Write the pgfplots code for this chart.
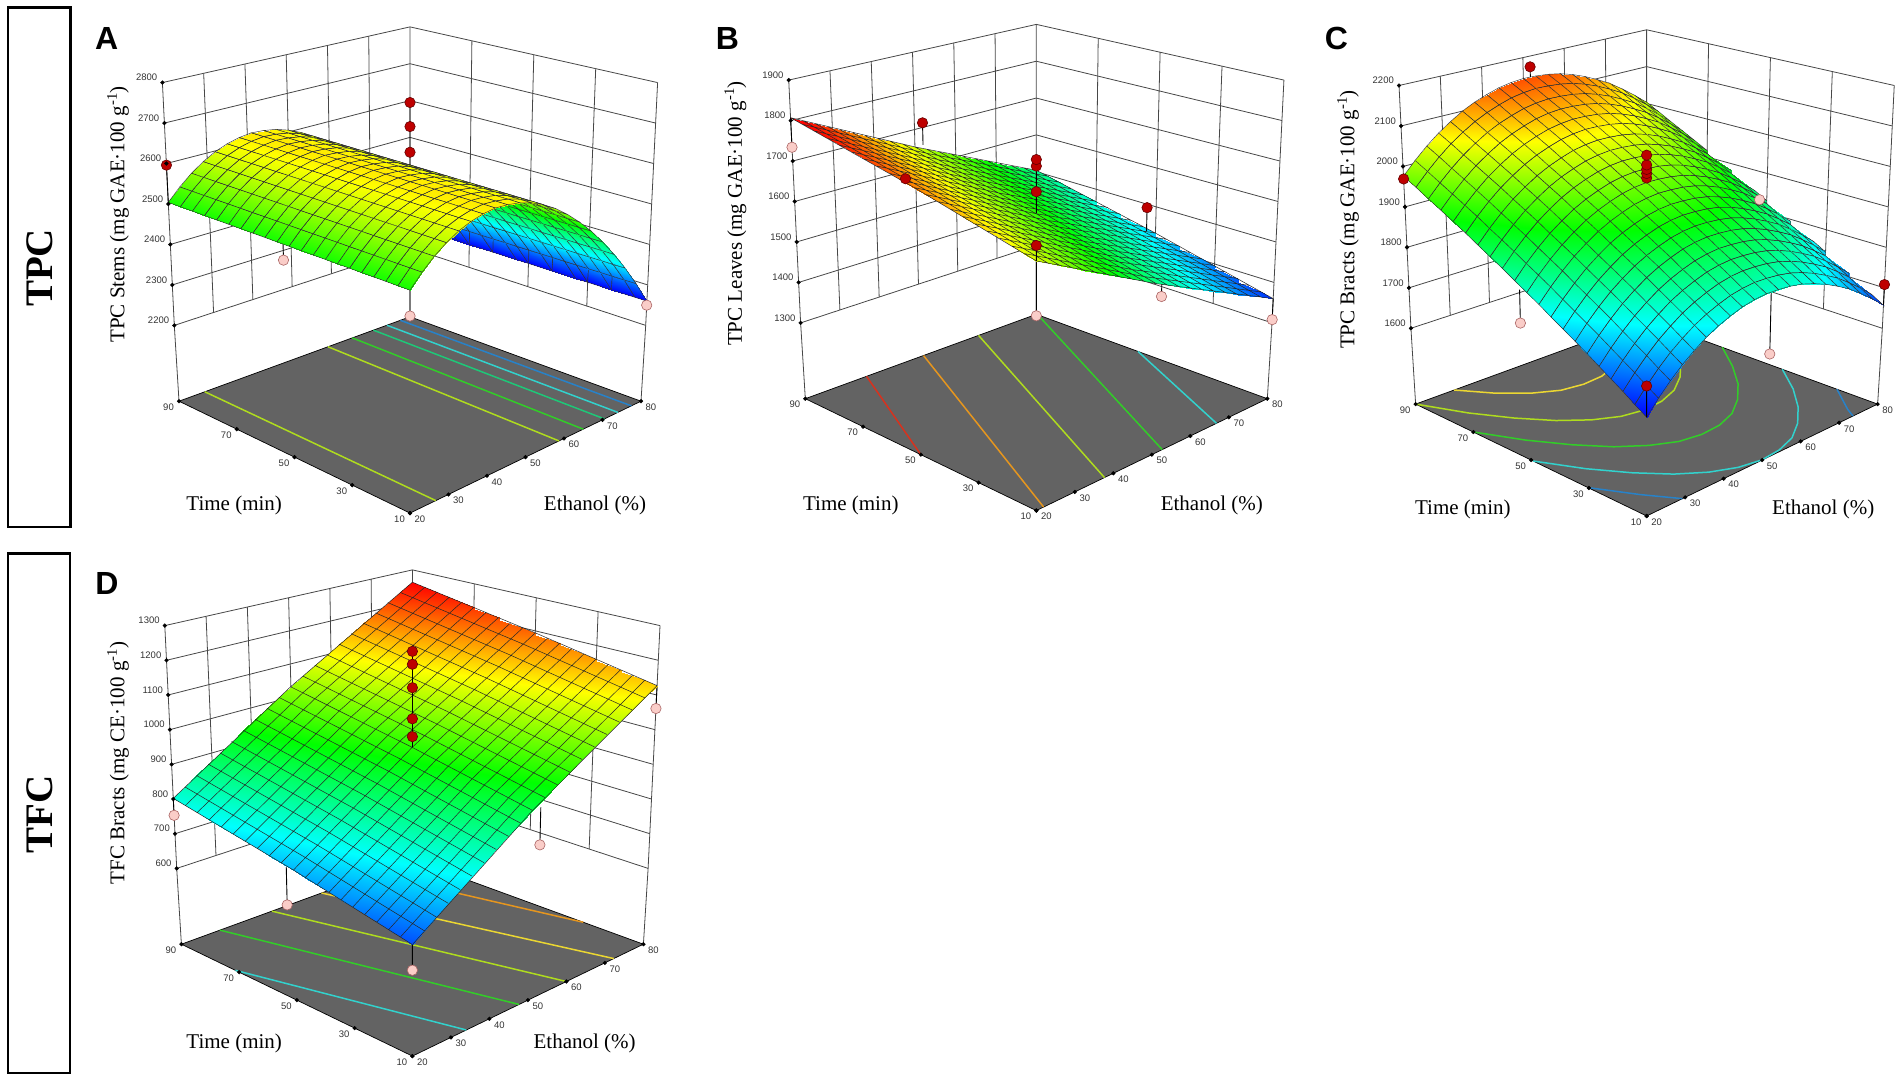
\documentclass[border=0pt]{standalone}
\usepackage{fontspec}
\usepackage{pgfplots}
\usepackage{pgfplotstable}
\pgfplotsset{compat=1.18}
\setmainfont{Liberation Serif}
\newfontfamily\labf{Liberation Sans}
\definecolor{floorgray}{RGB}{99,99,99}
\definecolor{pinkc}{RGB}{250,205,200}
\definecolor{pinkd}{RGB}{170,100,100}
\definecolor{redc}{RGB}{190,0,0}
\definecolor{redd}{RGB}{100,0,0}
\definecolor{cblue}{RGB}{40,130,200}
\definecolor{ccyan}{RGB}{50,210,205}
\definecolor{cteal}{RGB}{30,200,120}
\definecolor{cgreen}{RGB}{50,205,40}
\definecolor{cyg}{RGB}{175,220,30}
\definecolor{cyel}{RGB}{235,215,50}
\definecolor{corg}{RGB}{230,150,30}
\definecolor{cred}{RGB}{215,50,30}
\newcommand\pE{((\thisrow{e}-20)/60)}
\newcommand\pT{((\thisrow{t}-10)/80)}
\newcommand\pZ{((\thisrow{z}-\Zmin)/\Zrng)}
\pgfkeys{
 /pgfplots/table/real/.style={x expr={xproj(\pE,\pT,\pZ)},y expr={yproj(\pE,\pT,\pZ)}},
 /pgfplots/table/lev/.style={x expr={xproj(\pE,\pT,\thisrow{k}/\NZ)},y expr={yproj(\pE,\pT,\thisrow{k}/\NZ)}},
 /pgfplots/table/vrt/.style={x expr={xproj(\pE,\pT,\thisrow{f})},y expr={yproj(\pE,\pT,\thisrow{f})}},
 /pgfplots/table/flr/.style={x expr={xproj(\pE,\pT,-9)},y expr={yproj(\pE,\pT,-9)}},
 /pgfplots/table/grd/.style={
   x expr={xproj(1-mod(\coordindex,21)/20,1-floor(\coordindex/21)/20,\pZ)},
   y expr={yproj(1-mod(\coordindex,21)/20,1-floor(\coordindex/21)/20,\pZ)},
   meta=z,row sep=\\},
}
\pgfplotsset{
 colormap={de}{rgb255=(0,0,255) rgb255=(0,255,255) rgb255=(0,255,0) rgb255=(255,255,0) rgb255=(255,0,0)},
 panel/.style={hide axis,scale only axis,width=1902pt,height=1080pt,xmin=0,xmax=1902,ymin=0,ymax=1080,
  clip=false,at={(0pt,0pt)},anchor=south west,unbounded coords=jump,colormap name=de},
 pinkp/.style={only marks,mark=*,mark size=5.2pt,mark options={fill=pinkc,draw=pinkd,line width=.6pt}},
 redp/.style={only marks,mark=*,mark size=5.2pt,mark options={fill=redc,draw=redd,line width=.6pt}},
 stem/.style={black,line width=.9pt},
 srf/.style={surf,mesh/rows=21,mesh/cols=21,shader=faceted interp,faceted color=black!80,line width=.45pt,point meta=explicit},
 srfi/.style={surf,mesh/rows=21,mesh/cols=21,shader=interp,point meta=explicit},
 msh/.style={black!85,line width=.5pt},
 tk/.style={only marks,mark=*,mark size=1.9pt,mark options={fill=black,draw=black},nodes near coords,point meta=explicit symbolic,
   nodes near coords style={font=\labf\fontsize{9.5}{10}\selectfont,text=black!80,inner sep=0pt,#1}},
}
\pgfplotstableread{
e t k
20 90 0
80 90 0
80 10 0
nan nan nan
20 90 1
80 90 1
80 10 1
nan nan nan
20 90 2
80 90 2
80 10 2
nan nan nan
20 90 3
80 90 3
80 10 3
nan nan nan
20 90 4
80 90 4
80 10 4
nan nan nan
20 90 5
80 90 5
80 10 5
nan nan nan
20 90 6
80 90 6
80 10 6
}\wallH
\pgfplotstableread{
e t
20 90
20 70
20 50
20 30
20 10
}\tickT
\pgfplotstableread{
e t
20 10
30 10
40 10
50 10
60 10
70 10
80 10
}\tickE
\newcommand\Back{%
 \addplot[black!72,line width=.8pt] table[lev] \wallH;
 \addplot[black!72,line width=.8pt] table[vrt,row sep=\\]{e t f\\
  20 90 0\\20 90 1\\nan nan nan\\30 90 0\\30 90 1\\nan nan nan\\40 90 0\\40 90 1\\nan nan nan\\50 90 0\\50 90 1\\nan nan nan\\60 90 0\\60 90 1\\nan nan nan\\70 90 0\\70 90 1\\nan nan nan\\80 90 0\\80 90 1\\nan nan nan\\
  80 70 0\\80 70 1\\nan nan nan\\80 50 0\\80 50 1\\nan nan nan\\80 30 0\\80 30 1\\nan nan nan\\80 10 0\\80 10 1\\nan nan nan\\
  20 90 0\\20 90 -9\\nan nan nan\\80 90 0\\80 90 -9\\nan nan nan\\80 10 0\\80 10 -9\\};
 \addplot[fill=floorgray,draw=black,line width=.7pt] table[flr,row sep=\\]{e t\\20 10\\20 90\\80 90\\80 10\\20 10\\};
}
\newcommand\Ticks{%
 \addplot[tk={anchor=east,xshift=-5pt,yshift=-6pt}] table[flr,meta=t] \tickT;
 \addplot[tk={anchor=west,xshift=4.5pt,yshift=-6pt}] table[flr,meta=e] \tickE;
}
\newcommand\Ztk[1]{\addplot[tk={anchor=east,xshift=-5pt,yshift=5pt}] table[lev,meta=lab,row sep=\\]{e t k lab\\#1};}
\newcommand\Ct[2]{\addplot[#1,line width=1.5pt] table[flr,row sep=\\]{e t\\#2};}
\begin{document}
\begin{tikzpicture}[declare function={
  xproj(\p,\q,\r)=\PCX+ifthenelse(\r<-0.5,231*(\p-\q),(235.7+11.9*\r)*(\p-\q));
  yproj(\p,\q,\r)=1080-(\PDY)-ifthenelse(\r<-0.5,513.1-111.9*(\p+\q)+27.5*\p*\q,(428-102.6*(\p+\q)+25.1*\p*\q)+\r*(-272+29.2*(\p+\q)-7.4*\p*\q));
 }]
\path[use as bounding box] (0pt,0pt) rectangle (1902pt,1080pt);
% ---------- Panel A
\def\PCX{410}\def\PDY{0}\def\Zmin{2200}\def\Zrng{600}\def\NZ{6}
\begin{axis}[panel,point meta min=2260,point meta max=2730]
\Back
\Ct{cyg}{26.7 10\\26.7 90\\}
\Ct{cyg}{58.7 10\\58.7 90\\}
\Ct{cgreen}{65 10\\65 90\\}
\Ct{cteal}{70.5 10\\70.5 90\\}
\Ct{ccyan}{74 10\\74 90\\}
\Ct{cblue}{77.5 10\\77.5 90\\}
\addplot[stem] table[real,row sep=\\]{e t z\\48 90 2605\\48 90 2275\\nan nan nan\\20 10 2504\\20 10 2447\\nan nan nan\\80 10 2260\\80 10 2250\\};
\addplot[srf] table[grd]{z\\
2260\\2315\\2365\\2410\\2451\\2488\\2520\\2548\\2572\\2591\\2605\\2615\\2620\\2622\\2618\\2610\\2598\\2581\\2560\\2534\\2504\\
2260\\2315\\2365\\2410\\2451\\2488\\2520\\2548\\2572\\2591\\2605\\2615\\2620\\2622\\2618\\2610\\2598\\2581\\2560\\2534\\2504\\
2260\\2315\\2365\\2410\\2451\\2488\\2520\\2548\\2572\\2591\\2605\\2615\\2620\\2622\\2618\\2610\\2598\\2581\\2560\\2534\\2504\\
2260\\2315\\2365\\2410\\2451\\2488\\2520\\2548\\2572\\2591\\2605\\2615\\2620\\2622\\2618\\2610\\2598\\2581\\2560\\2534\\2504\\
2260\\2315\\2365\\2410\\2451\\2488\\2520\\2548\\2572\\2591\\2605\\2615\\2620\\2622\\2618\\2610\\2598\\2581\\2560\\2534\\2504\\
2260\\2315\\2365\\2410\\2451\\2488\\2520\\2548\\2572\\2591\\2605\\2615\\2620\\2622\\2618\\2610\\2598\\2581\\2560\\2534\\2504\\
2260\\2315\\2365\\2410\\2451\\2488\\2520\\2548\\2572\\2591\\2605\\2615\\2620\\2622\\2618\\2610\\2598\\2581\\2560\\2534\\2504\\
2260\\2315\\2365\\2410\\2451\\2488\\2520\\2548\\2572\\2591\\2605\\2615\\2620\\2622\\2618\\2610\\2598\\2581\\2560\\2534\\2504\\
2260\\2315\\2365\\2410\\2451\\2488\\2520\\2548\\2572\\2591\\2605\\2615\\2620\\2622\\2618\\2610\\2598\\2581\\2560\\2534\\2504\\
2260\\2315\\2365\\2410\\2451\\2488\\2520\\2548\\2572\\2591\\2605\\2615\\2620\\2622\\2618\\2610\\2598\\2581\\2560\\2534\\2504\\
2260\\2315\\2365\\2410\\2451\\2488\\2520\\2548\\2572\\2591\\2605\\2615\\2620\\2622\\2618\\2610\\2598\\2581\\2560\\2534\\2504\\
2260\\2315\\2365\\2410\\2451\\2488\\2520\\2548\\2572\\2591\\2605\\2615\\2620\\2622\\2618\\2610\\2598\\2581\\2560\\2534\\2504\\
2260\\2315\\2365\\2410\\2451\\2488\\2520\\2548\\2572\\2591\\2605\\2615\\2620\\2622\\2618\\2610\\2598\\2581\\2560\\2534\\2504\\
2260\\2315\\2365\\2410\\2451\\2488\\2520\\2548\\2572\\2591\\2605\\2615\\2620\\2622\\2618\\2610\\2598\\2581\\2560\\2534\\2504\\
2260\\2315\\2365\\2410\\2451\\2488\\2520\\2548\\2572\\2591\\2605\\2615\\2620\\2622\\2618\\2610\\2598\\2581\\2560\\2534\\2504\\
2260\\2315\\2365\\2410\\2451\\2488\\2520\\2548\\2572\\2591\\2605\\2615\\2620\\2622\\2618\\2610\\2598\\2581\\2560\\2534\\2504\\
2260\\2315\\2365\\2410\\2451\\2488\\2520\\2548\\2572\\2591\\2605\\2615\\2620\\2622\\2618\\2610\\2598\\2581\\2560\\2534\\2504\\
2260\\2315\\2365\\2410\\2451\\2488\\2520\\2548\\2572\\2591\\2605\\2615\\2620\\2622\\2618\\2610\\2598\\2581\\2560\\2534\\2504\\
2260\\2315\\2365\\2410\\2451\\2488\\2520\\2548\\2572\\2591\\2605\\2615\\2620\\2622\\2618\\2610\\2598\\2581\\2560\\2534\\2504\\
2260\\2315\\2365\\2410\\2451\\2488\\2520\\2548\\2572\\2591\\2605\\2615\\2620\\2622\\2618\\2610\\2598\\2581\\2560\\2534\\2504\\
2260\\2315\\2365\\2410\\2451\\2488\\2520\\2548\\2572\\2591\\2605\\2615\\2620\\2622\\2618\\2610\\2598\\2581\\2560\\2534\\2504\\
};
\addplot[stem] table[real,row sep=\\]{e t z\\50 50 2605\\50 50 2762\\nan nan nan\\20 90 2504\\20 90 2596\\};
\addplot[pinkp] table[real,row sep=\\]{e t z\\48 90 2275\\20 10 2447\\80 10 2250\\};
\addplot[redp] table[real,row sep=\\]{e t z\\50 50 2640\\50 50 2703\\50 50 2762\\20 90 2596\\};
\Ticks
\Ztk{20 90 0 2200\\20 90 1 2300\\20 90 2 2400\\20 90 3 2500\\20 90 4 2600\\20 90 5 2700\\20 90 6 2800\\}
\draw[black,line width=2.6pt] (axis cs:7.8,1072.4) rectangle (axis cs:70.3,553);
\node[rotate=90,font=\bfseries\fontsize{39}{39}\selectfont] at (axis cs:40,812) {TPC};
\node[font=\labf\bfseries\fontsize{32}{32}\selectfont] at (axis cs:106.7,1041) {A};
\node[rotate=90,font=\fontsize{21}{21}\selectfont] at (axis cs:118,865.6) {TPC Stems (mg GAE·100 g\textsuperscript{-1})};
\node[font=\fontsize{21}{21}\selectfont] at (axis cs:234.2,574.8) {Time (min)};
\node[font=\fontsize{21}{21}\selectfont] at (axis cs:595,574.8) {Ethanol (\%)};
\end{axis}
% ---------- Panel B
\def\PCX{1036.3}\def\PDY{-2.5}\def\Zmin{1300}\def\Zrng{600}\def\NZ{6}
\begin{axis}[panel,point meta min=1340,point meta max=1790]
\Back
\Ct{cred}{20 50\\35.9 90\\}
\Ct{corg}{21.9 10\\50.7 90\\}
\Ct{cyg}{37.7 10\\65 90\\}
\Ct{cgreen}{52.7 10\\80 89.5\\}
\Ct{ccyan}{66.8 10\\80 54.8\\}
\addplot[stem] table[real,row sep=\\]{e t z\\20 10 1663\\20 10 1542\\nan nan nan\\51.4 10 1513\\51.4 10 1476\\nan nan nan\\80 10 1360\\80 10 1308\\nan nan nan\\20 90 1807\\20 90 1734\\};
\addplot[pinkp] table[real,row sep=\\]{e t z\\20 90 1734\\};
\addplot[srfi] table[grd]{z\\
1504\\1519\\1534\\1549\\1565\\1580\\1595\\1610\\1625\\1640\\1656\\1671\\1686\\1701\\1716\\1731\\1746\\1762\\1777\\1792\\1807\\
1497\\1512\\1527\\1542\\1558\\1573\\1588\\1603\\1618\\1633\\1649\\1664\\1679\\1694\\1709\\1724\\1739\\1755\\1770\\1785\\1800\\
1490\\1505\\1520\\1535\\1551\\1566\\1581\\1596\\1611\\1626\\1642\\1657\\1672\\1687\\1702\\1717\\1732\\1748\\1763\\1778\\1793\\
1482\\1497\\1512\\1527\\1543\\1558\\1573\\1588\\1603\\1618\\1634\\1649\\1664\\1679\\1694\\1709\\1724\\1740\\1755\\1770\\1785\\
1475\\1490\\1505\\1520\\1536\\1551\\1566\\1581\\1596\\1611\\1627\\1642\\1657\\1672\\1687\\1702\\1717\\1733\\1748\\1763\\1778\\
1468\\1483\\1498\\1513\\1529\\1544\\1559\\1574\\1589\\1604\\1620\\1635\\1650\\1665\\1680\\1695\\1710\\1726\\1741\\1756\\1771\\
1461\\1476\\1491\\1506\\1522\\1537\\1552\\1567\\1582\\1597\\1613\\1628\\1643\\1658\\1673\\1688\\1703\\1719\\1734\\1749\\1764\\
1454\\1469\\1484\\1499\\1515\\1530\\1545\\1560\\1575\\1590\\1606\\1621\\1636\\1651\\1666\\1681\\1696\\1712\\1727\\1742\\1757\\
1446\\1461\\1476\\1491\\1507\\1522\\1537\\1552\\1567\\1582\\1598\\1613\\1628\\1643\\1658\\1673\\1688\\1704\\1719\\1734\\1749\\
1439\\1454\\1469\\1484\\1500\\1515\\1530\\1545\\1560\\1575\\1591\\1606\\1621\\1636\\1651\\1666\\1681\\1697\\1712\\1727\\1742\\
1432\\1447\\1462\\1477\\1493\\1508\\1523\\1538\\1553\\1568\\1584\\1599\\1614\\1629\\1644\\1659\\1674\\1690\\1705\\1720\\1735\\
1425\\1440\\1455\\1470\\1486\\1501\\1516\\1531\\1546\\1561\\1577\\1592\\1607\\1622\\1637\\1652\\1667\\1683\\1698\\1713\\1728\\
1418\\1433\\1448\\1463\\1479\\1494\\1509\\1524\\1539\\1554\\1570\\1585\\1600\\1615\\1630\\1645\\1660\\1676\\1691\\1706\\1721\\
1410\\1425\\1440\\1455\\1471\\1486\\1501\\1516\\1531\\1546\\1562\\1577\\1592\\1607\\1622\\1637\\1652\\1668\\1683\\1698\\1713\\
1403\\1418\\1433\\1448\\1464\\1479\\1494\\1509\\1524\\1539\\1555\\1570\\1585\\1600\\1615\\1630\\1645\\1661\\1676\\1691\\1706\\
1396\\1411\\1426\\1441\\1457\\1472\\1487\\1502\\1517\\1532\\1548\\1563\\1578\\1593\\1608\\1623\\1638\\1654\\1669\\1684\\1699\\
1389\\1404\\1419\\1434\\1450\\1465\\1480\\1495\\1510\\1525\\1541\\1556\\1571\\1586\\1601\\1616\\1631\\1647\\1662\\1677\\1692\\
1382\\1397\\1412\\1427\\1443\\1458\\1473\\1488\\1503\\1518\\1534\\1549\\1564\\1579\\1594\\1609\\1624\\1640\\1655\\1670\\1685\\
1374\\1389\\1404\\1419\\1435\\1450\\1465\\1480\\1495\\1510\\1526\\1541\\1556\\1571\\1586\\1601\\1616\\1632\\1647\\1662\\1677\\
1367\\1382\\1397\\1412\\1428\\1443\\1458\\1473\\1488\\1503\\1519\\1534\\1549\\1564\\1579\\1594\\1609\\1625\\1640\\1655\\1670\\
1360\\1375\\1390\\1405\\1421\\1436\\1451\\1466\\1481\\1496\\1512\\1527\\1542\\1557\\1572\\1587\\1602\\1618\\1633\\1648\\1663\\
};
\addplot[msh] table[real,row sep=\\]{e t z\\
20 10 1663\\20 50 1735\\20 90 1807\\nan nan nan\\23 10 1648\\23 50 1720\\23 90 1792\\nan nan nan\\26 10 1633\\26 50 1705\\26 90 1777\\nan nan nan\\29 10 1618\\29 50 1690\\29 90 1762\\nan nan nan\\32 10 1602\\32 50 1674\\32 90 1746\\nan nan nan\\35 10 1587\\35 50 1659\\35 90 1731\\nan nan nan\\38 10 1572\\38 50 1644\\38 90 1716\\nan nan nan\\41 10 1557\\41 50 1629\\41 90 1701\\nan nan nan\\44 10 1542\\44 50 1614\\44 90 1686\\nan nan nan\\47 10 1527\\47 50 1599\\47 90 1671\\nan nan nan\\50 10 1511\\50 50 1583\\50 90 1655\\nan nan nan\\53 10 1496\\53 50 1568\\53 90 1640\\nan nan nan\\56 10 1481\\56 50 1553\\56 90 1625\\nan nan nan\\59 10 1466\\59 50 1538\\59 90 1610\\nan nan nan\\62 10 1451\\62 50 1523\\62 90 1595\\nan nan nan\\65 10 1436\\65 50 1508\\65 90 1580\\nan nan nan\\68 10 1421\\68 50 1493\\68 90 1565\\nan nan nan\\71 10 1405\\71 50 1477\\71 90 1549\\nan nan nan\\74 10 1390\\74 50 1462\\74 90 1534\\nan nan nan\\77 10 1375\\77 50 1447\\77 90 1519\\nan nan nan\\80 10 1360\\80 50 1432\\80 90 1504\\nan nan nan\\
20 10 1663\\50 10 1511\\80 10 1360\\nan nan nan\\20 14 1670\\50 14 1518\\80 14 1367\\nan nan nan\\20 18 1677\\50 18 1525\\80 18 1374\\nan nan nan\\20 22 1685\\50 22 1533\\80 22 1382\\nan nan nan\\20 26 1692\\50 26 1540\\80 26 1389\\nan nan nan\\20 30 1699\\50 30 1547\\80 30 1396\\nan nan nan\\20 34 1706\\50 34 1554\\80 34 1403\\nan nan nan\\20 38 1713\\50 38 1561\\80 38 1410\\nan nan nan\\20 42 1721\\50 42 1569\\80 42 1418\\nan nan nan\\20 46 1728\\50 46 1576\\80 46 1425\\nan nan nan\\20 50 1735\\50 50 1583\\80 50 1432\\nan nan nan\\20 54 1742\\50 54 1590\\80 54 1439\\nan nan nan\\20 58 1749\\50 58 1597\\80 58 1446\\nan nan nan\\20 62 1757\\50 62 1605\\80 62 1454\\nan nan nan\\20 66 1764\\50 66 1612\\80 66 1461\\nan nan nan\\20 70 1771\\50 70 1619\\80 70 1468\\nan nan nan\\20 74 1778\\50 74 1626\\80 74 1475\\nan nan nan\\20 78 1785\\50 78 1633\\80 78 1482\\nan nan nan\\20 82 1793\\50 82 1641\\80 82 1490\\nan nan nan\\20 86 1800\\50 86 1648\\80 86 1497\\nan nan nan\\20 90 1807\\50 90 1655\\80 90 1504\\};
\addplot[stem] table[real,row sep=\\]{e t z\\52 90 1655\\52 90 1712\\nan nan nan\\20 10 1663\\20 10 1697\\nan nan nan\\50 50 1584\\50 50 1716\\nan nan nan\\80 53 1430\\80 53 1491\\};
\addplot[pinkp] table[real,row sep=\\]{e t z\\20 10 1542\\51.4 10 1476\\80 10 1308\\};
\addplot[redp] table[real,row sep=\\]{e t z\\52 90 1712\\20 52.8 1749\\50 50 1637\\50 50 1700\\50 50 1716\\20 10 1697\\80 53 1491\\};
\Ticks
\Ztk{20 90 0 1300\\20 90 1 1400\\20 90 2 1500\\20 90 3 1600\\20 90 4 1700\\20 90 5 1800\\20 90 6 1900\\}
\node[font=\labf\bfseries\fontsize{32}{32}\selectfont] at (axis cs:727.4,1041) {B};
\node[rotate=90,font=\fontsize{21}{21}\selectfont] at (axis cs:735.4,866.5) {TPC Leaves (mg GAE·100 g\textsuperscript{-1})};
\node[font=\fontsize{21}{21}\selectfont] at (axis cs:850.8,574.8) {Time (min)};
\node[font=\fontsize{21}{21}\selectfont] at (axis cs:1211.8,574.8) {Ethanol (\%)};
\end{axis}
% ---------- Panel C
\def\PCX{1646.6}\def\PDY{2.9}\def\Zmin{1600}\def\Zrng{600}\def\NZ{6}
\begin{axis}[panel,point meta min=1630,point meta max=2190]
\Back
\Ct{cblue}{20 30.3\\25 18.8\\29.3 10\\}
\Ct{cblue}{80 24.1\\75 13.7\\73.6 10\\}
\Ct{ccyan}{20 49.3\\25 37.7\\30 28.3\\35 20.6\\40 15.1\\45 11.6\\50 10.1\\55 10.7\\60 13\\65 17.7\\70 24.2\\75 32.6\\80 43\\}
\Ct{cgreen}{20 70.1\\25 58.6\\30 49.2\\35 41.4\\40 35.9\\45 32.2\\50 30.9\\55 31.4\\60 33.8\\65 38.5\\70 45\\75 53.6\\80 63.8\\}
\Ct{cyg}{20 90\\25 78.4\\30 69.1\\35 61.4\\40 55.8\\45 52.2\\50 50.8\\55 51.4\\60 53.8\\65 58.4\\70 64.9\\75 73.4\\80 83.7\\}
\Ct{cyel}{30 90\\35 82.2\\40 76.6\\45 73\\50 71.8\\55 72.2\\60 74.6\\65 79.2\\70 85.7\\73 90\\}
\addplot[stem] table[real,row sep=\\]{e t z\\20 52.4 1803\\20 52.4 1725\\nan nan nan\\51.2 10 1800\\51.2 10 1655\\};
\addplot[pinkp] table[real,row sep=\\]{e t z\\80 52.4 1827\\};
\addplot[srf] table[grd]{z\\
2003\\2031\\2056\\2079\\2097\\2113\\2126\\2136\\2142\\2145\\2146\\2143\\2137\\2127\\2115\\2100\\2081\\2060\\2035\\2007\\1976\\
1986\\2014\\2039\\2062\\2080\\2096\\2109\\2119\\2125\\2128\\2129\\2126\\2120\\2110\\2098\\2083\\2064\\2043\\2018\\1990\\1959\\
1968\\1996\\2021\\2044\\2062\\2078\\2091\\2101\\2107\\2110\\2111\\2108\\2102\\2092\\2080\\2065\\2046\\2025\\2000\\1972\\1941\\
1951\\1979\\2004\\2027\\2045\\2061\\2074\\2084\\2090\\2093\\2094\\2091\\2085\\2075\\2063\\2048\\2029\\2008\\1983\\1955\\1924\\
1934\\1962\\1987\\2010\\2028\\2044\\2057\\2067\\2073\\2076\\2077\\2074\\2068\\2058\\2046\\2031\\2012\\1991\\1966\\1938\\1907\\
1917\\1945\\1970\\1993\\2011\\2027\\2040\\2050\\2056\\2059\\2060\\2057\\2051\\2041\\2029\\2014\\1995\\1974\\1949\\1921\\1890\\
1899\\1927\\1952\\1975\\1993\\2009\\2022\\2032\\2038\\2041\\2042\\2039\\2033\\2023\\2011\\1996\\1977\\1956\\1931\\1903\\1872\\
1882\\1910\\1935\\1958\\1976\\1992\\2005\\2015\\2021\\2024\\2025\\2022\\2016\\2006\\1994\\1979\\1960\\1939\\1914\\1886\\1855\\
1865\\1893\\1918\\1941\\1959\\1975\\1988\\1998\\2004\\2007\\2008\\2005\\1999\\1989\\1977\\1962\\1943\\1922\\1897\\1869\\1838\\
1847\\1875\\1900\\1923\\1941\\1957\\1970\\1980\\1986\\1989\\1990\\1987\\1981\\1971\\1959\\1944\\1925\\1904\\1879\\1851\\1820\\
1830\\1858\\1883\\1906\\1924\\1940\\1953\\1963\\1969\\1972\\1973\\1970\\1964\\1954\\1942\\1927\\1908\\1887\\1862\\1834\\1803\\
1813\\1841\\1866\\1889\\1907\\1923\\1936\\1946\\1952\\1955\\1956\\1953\\1947\\1937\\1925\\1910\\1891\\1870\\1845\\1817\\1786\\
1795\\1823\\1848\\1871\\1889\\1905\\1918\\1928\\1934\\1937\\1938\\1935\\1929\\1919\\1907\\1892\\1873\\1852\\1827\\1799\\1768\\
1778\\1806\\1831\\1854\\1872\\1888\\1901\\1911\\1917\\1920\\1921\\1918\\1912\\1902\\1890\\1875\\1856\\1835\\1810\\1782\\1751\\
1761\\1789\\1814\\1837\\1855\\1871\\1884\\1894\\1900\\1903\\1904\\1901\\1895\\1885\\1873\\1858\\1839\\1818\\1793\\1765\\1734\\
1744\\1772\\1797\\1820\\1838\\1854\\1867\\1877\\1883\\1886\\1887\\1884\\1878\\1868\\1856\\1841\\1822\\1801\\1776\\1748\\1717\\
1726\\1754\\1779\\1802\\1820\\1836\\1849\\1859\\1865\\1868\\1869\\1866\\1860\\1850\\1838\\1823\\1804\\1783\\1758\\1730\\1699\\
1709\\1737\\1762\\1785\\1803\\1819\\1832\\1842\\1848\\1851\\1852\\1849\\1843\\1833\\1821\\1806\\1787\\1766\\1741\\1713\\1682\\
1692\\1720\\1745\\1768\\1786\\1802\\1815\\1825\\1831\\1834\\1835\\1832\\1826\\1816\\1804\\1789\\1770\\1749\\1724\\1696\\1665\\
1674\\1702\\1727\\1750\\1768\\1784\\1797\\1807\\1813\\1816\\1817\\1814\\1808\\1798\\1786\\1771\\1752\\1731\\1706\\1678\\1647\\
1657\\1685\\1710\\1733\\1751\\1767\\1780\\1790\\1796\\1799\\1800\\1797\\1791\\1781\\1769\\1754\\1735\\1714\\1689\\1661\\1630\\
};
\addplot[stem] table[real,row sep=\\]{e t z\\51.7 90 2146\\51.7 90 2172\\nan nan nan\\50 50 1973\\50 50 2040\\nan nan nan\\20 10 1630\\20 10 1699\\nan nan nan\\80 10 1657\\80 10 1708\\};
\addplot[pinkp] table[real,row sep=\\]{e t z\\20 52.4 1725\\51.2 10 1655\\};
\addplot[redp] table[real,row sep=\\]{e t z\\51.7 90 2172\\20 90 1969\\50 50 1984\\50 50 1995\\50 50 2005\\50 50 2016\\50 50 2040\\20 10 1699\\80 10 1708\\};
\Ticks
\Ztk{20 90 0 1600\\20 90 1 1700\\20 90 2 1800\\20 90 3 1900\\20 90 4 2000\\20 90 5 2100\\20 90 6 2200\\}
\node[font=\labf\bfseries\fontsize{32}{32}\selectfont] at (axis cs:1336.5,1041) {C};
\node[rotate=90,font=\fontsize{21}{21}\selectfont] at (axis cs:1348,860.5) {TPC Bracts (mg GAE·100 g\textsuperscript{-1})};
\node[font=\fontsize{21}{21}\selectfont] at (axis cs:1462.8,570.4) {Time (min)};
\node[font=\fontsize{21}{21}\selectfont] at (axis cs:1823.2,570.4) {Ethanol (\%)};
\end{axis}
% ---------- Panel D
\def\PCX{412.4}\def\PDY{543}\def\Zmin{600}\def\Zrng{700}\def\NZ{7}
\begin{axis}[panel,point meta min=620,point meta max=1260]
\Back
\addplot[black!72,line width=.8pt] table[lev,row sep=\\]{e t k\\20 90 7\\80 90 7\\80 10 7\\};
\Ct{ccyan}{20 71.3\\34 10\\}
\Ct{cgreen}{30 90\\47.7 10\\}
\Ct{cyg}{43.5 90\\60 10\\}
\Ct{cyel}{56.4 90\\72.3 10\\}
\Ct{corg}{70 90\\80 30.8\\}
\addplot[stem] table[real,row sep=\\]{e t z\\20 10 668\\20 10 602\\nan nan nan\\52 10 897\\52 10 795\\nan nan nan\\20 52.4 735\\20 52.4 632\\nan nan nan\\20 90 802\\20 90 753\\nan nan nan\\80 10 1127\\80 10 1061\\};
\addplot[srfi] table[grd]{z\\
1261\\1238\\1215\\1192\\1169\\1146\\1123\\1100\\1077\\1054\\1031\\1009\\986\\963\\940\\917\\894\\871\\848\\825\\802\\
1254\\1231\\1208\\1185\\1162\\1139\\1116\\1093\\1070\\1047\\1024\\1002\\979\\956\\933\\910\\887\\864\\841\\818\\795\\
1248\\1225\\1202\\1179\\1156\\1133\\1110\\1087\\1064\\1041\\1018\\996\\973\\950\\927\\904\\881\\858\\835\\812\\789\\
1241\\1218\\1195\\1172\\1149\\1126\\1103\\1080\\1057\\1034\\1011\\989\\966\\943\\920\\897\\874\\851\\828\\805\\782\\
1234\\1211\\1188\\1165\\1142\\1119\\1096\\1073\\1050\\1027\\1004\\982\\959\\936\\913\\890\\867\\844\\821\\798\\775\\
1228\\1205\\1182\\1159\\1136\\1113\\1090\\1067\\1044\\1021\\998\\976\\953\\930\\907\\884\\861\\838\\815\\792\\769\\
1221\\1198\\1175\\1152\\1129\\1106\\1083\\1060\\1037\\1014\\991\\969\\946\\923\\900\\877\\854\\831\\808\\785\\762\\
1214\\1191\\1168\\1145\\1122\\1099\\1076\\1053\\1030\\1007\\984\\962\\939\\916\\893\\870\\847\\824\\801\\778\\755\\
1207\\1184\\1161\\1138\\1115\\1092\\1069\\1046\\1023\\1000\\977\\955\\932\\909\\886\\863\\840\\817\\794\\771\\748\\
1201\\1178\\1155\\1132\\1109\\1086\\1063\\1040\\1017\\994\\971\\949\\926\\903\\880\\857\\834\\811\\788\\765\\742\\
1194\\1171\\1148\\1125\\1102\\1079\\1056\\1033\\1010\\987\\964\\942\\919\\896\\873\\850\\827\\804\\781\\758\\735\\
1187\\1164\\1141\\1118\\1095\\1072\\1049\\1026\\1003\\980\\957\\935\\912\\889\\866\\843\\820\\797\\774\\751\\728\\
1181\\1158\\1135\\1112\\1089\\1066\\1043\\1020\\997\\974\\951\\929\\906\\883\\860\\837\\814\\791\\768\\745\\722\\
1174\\1151\\1128\\1105\\1082\\1059\\1036\\1013\\990\\967\\944\\922\\899\\876\\853\\830\\807\\784\\761\\738\\715\\
1167\\1144\\1121\\1098\\1075\\1052\\1029\\1006\\983\\960\\937\\915\\892\\869\\846\\823\\800\\777\\754\\731\\708\\
1161\\1138\\1115\\1092\\1069\\1046\\1023\\1000\\977\\954\\931\\909\\886\\863\\840\\817\\794\\771\\748\\725\\702\\
1154\\1131\\1108\\1085\\1062\\1039\\1016\\993\\970\\947\\924\\902\\879\\856\\833\\810\\787\\764\\741\\718\\695\\
1147\\1124\\1101\\1078\\1055\\1032\\1009\\986\\963\\940\\917\\895\\872\\849\\826\\803\\780\\757\\734\\711\\688\\
1140\\1117\\1094\\1071\\1048\\1025\\1002\\979\\956\\933\\910\\888\\865\\842\\819\\796\\773\\750\\727\\704\\681\\
1134\\1111\\1088\\1065\\1042\\1019\\996\\973\\950\\927\\904\\882\\859\\836\\813\\790\\767\\744\\721\\698\\675\\
1127\\1104\\1081\\1058\\1035\\1012\\989\\966\\943\\920\\897\\875\\852\\829\\806\\783\\760\\737\\714\\691\\668\\
};
\addplot[msh] table[real,row sep=\\]{e t z\\
20 10 668\\20 50 735\\20 90 802\\nan nan nan\\23 10 691\\23 50 758\\23 90 825\\nan nan nan\\26 10 714\\26 50 781\\26 90 848\\nan nan nan\\29 10 737\\29 50 804\\29 90 871\\nan nan nan\\32 10 760\\32 50 827\\32 90 894\\nan nan nan\\35 10 783\\35 50 850\\35 90 917\\nan nan nan\\38 10 806\\38 50 873\\38 90 940\\nan nan nan\\41 10 829\\41 50 896\\41 90 963\\nan nan nan\\44 10 852\\44 50 919\\44 90 986\\nan nan nan\\47 10 875\\47 50 942\\47 90 1009\\nan nan nan\\50 10 897\\50 50 964\\50 90 1031\\nan nan nan\\53 10 920\\53 50 987\\53 90 1054\\nan nan nan\\56 10 943\\56 50 1010\\56 90 1077\\nan nan nan\\59 10 966\\59 50 1033\\59 90 1100\\nan nan nan\\62 10 989\\62 50 1056\\62 90 1123\\nan nan nan\\65 10 1012\\65 50 1079\\65 90 1146\\nan nan nan\\68 10 1035\\68 50 1102\\68 90 1169\\nan nan nan\\71 10 1058\\71 50 1125\\71 90 1192\\nan nan nan\\74 10 1081\\74 50 1148\\74 90 1215\\nan nan nan\\77 10 1104\\77 50 1171\\77 90 1238\\nan nan nan\\80 10 1127\\80 50 1194\\80 90 1261\\nan nan nan\\
20 10 668\\50 10 898\\80 10 1127\\nan nan nan\\20 14 675\\50 14 905\\80 14 1134\\nan nan nan\\20 18 681\\50 18 911\\80 18 1140\\nan nan nan\\20 22 688\\50 22 918\\80 22 1147\\nan nan nan\\20 26 695\\50 26 925\\80 26 1154\\nan nan nan\\20 30 702\\50 30 932\\80 30 1161\\nan nan nan\\20 34 708\\50 34 938\\80 34 1167\\nan nan nan\\20 38 715\\50 38 945\\80 38 1174\\nan nan nan\\20 42 722\\50 42 952\\80 42 1181\\nan nan nan\\20 46 728\\50 46 958\\80 46 1187\\nan nan nan\\20 50 735\\50 50 965\\80 50 1194\\nan nan nan\\20 54 742\\50 54 972\\80 54 1201\\nan nan nan\\20 58 748\\50 58 978\\80 58 1207\\nan nan nan\\20 62 755\\50 62 985\\80 62 1214\\nan nan nan\\20 66 762\\50 66 992\\80 66 1221\\nan nan nan\\20 70 769\\50 70 999\\80 70 1228\\nan nan nan\\20 74 775\\50 74 1005\\80 74 1234\\nan nan nan\\20 78 782\\50 78 1012\\80 78 1241\\nan nan nan\\20 82 789\\50 82 1019\\80 82 1248\\nan nan nan\\20 86 795\\50 86 1025\\80 86 1254\\nan nan nan\\20 90 802\\50 90 1032\\80 90 1261\\};
\addplot[stem] table[real,row sep=\\]{e t z\\50 50 965\\50 50 1239\\};
\addplot[pinkp] table[real,row sep=\\]{e t z\\20 10 602\\52 10 795\\20 52.4 632\\20 90 753\\80 10 1061\\};
\addplot[redp] table[real,row sep=\\]{e t z\\50 50 995\\50 50 1046\\50 50 1135\\50 50 1202\\50 50 1239\\};
\Ticks
\Ztk{20 90 0 600\\20 90 1 700\\20 90 2 800\\20 90 3 900\\20 90 4 1000\\20 90 5 1100\\20 90 6 1200\\20 90 7 1300\\}
\draw[black,line width=2.6pt] (axis cs:7.8,526.2) rectangle (axis cs:70,7);
\node[rotate=90,font=\bfseries\fontsize{39}{39}\selectfont] at (axis cs:40,265.4) {TFC};
\node[font=\labf\bfseries\fontsize{32}{32}\selectfont] at (axis cs:107,496.3) {D};
\node[rotate=90,font=\fontsize{21}{21}\selectfont] at (axis cs:118,317) {TFC Bracts (mg CE·100 g\textsuperscript{-1})};
\node[font=\fontsize{21}{21}\selectfont] at (axis cs:234.2,36.6) {Time (min)};
\node[font=\fontsize{21}{21}\selectfont] at (axis cs:584.6,36.6) {Ethanol (\%)};
\end{axis}
\end{tikzpicture}
\end{document}
